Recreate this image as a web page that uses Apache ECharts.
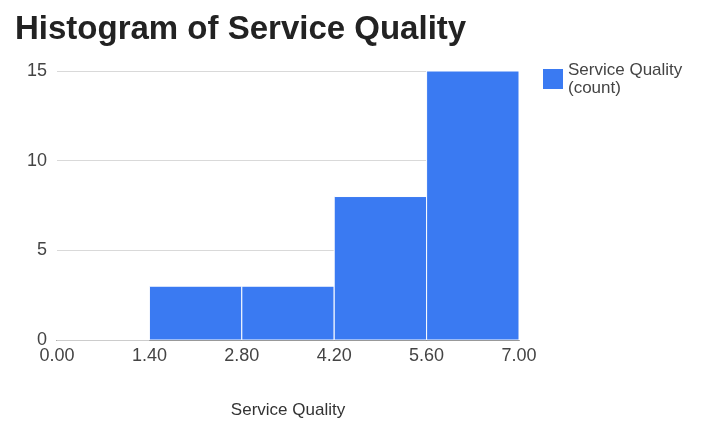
<!DOCTYPE html>
<html>
<head>
<meta charset="utf-8">
<script src="https://cdn.jsdelivr.net/npm/echarts@6/dist/echarts.min.js"></script>
<style>
  html, body { margin: 0; padding: 0; background: #fff; }
  #chart { width: 717px; height: 422px; }
</style>
</head>
<body>
<div id="chart"></div>
<script>
// bin edges and counts
const binStarts = [0.0, 1.4, 2.8, 4.2, 5.6]
const binEnds = [1.4, 2.8, 4.2, 5.6, 7.0]
const counts = [0, 3, 3, 8, 15]
const yTicks = [0, 5, 10, 15]

const font = 'Liberation Sans, Arial, sans-serif'
let myChart = echarts.init(document.getElementById('chart'))

myChart.setOption({
  animation: false,
  title: {
    text: 'Histogram of Service Quality',
    left: 10,
    top: 8,
    textStyle: { fontFamily: font, fontSize: 33, fontWeight: 'bold', color: '#222' }
  },
  legend: {
    orient: 'vertical',
    left: 538,
    top: 56,
    itemWidth: 20,
    itemHeight: 20,
    textStyle: { fontFamily: font, fontSize: 17, color: '#444', lineHeight: 18 },
    data: [{ name: 'Service Quality\n(count)', icon: 'rect' }]
  },
  grid: { left: 57, right: 198, top: 71, bottom: 82, outerBoundsMode: 'none' },
  xAxis: {
    type: 'value',
    min: 0,
    max: 7,
    interval: 1.4,
    name: 'Service Quality',
    nameLocation: 'middle',
    nameGap: 62,
    nameTextStyle: { fontFamily: font, fontSize: 17, color: '#333' },
    axisLine: { show: true, lineStyle: { color: '#333', width: 1 } },
    axisTick: { show: false },
    splitLine: { show: false },
    axisLabel: {
      fontFamily: font, fontSize: 18, color: '#444', margin: 7,
      formatter: v => v.toFixed(2)
    }
  },
  yAxis: {
    type: 'value',
    min: yTicks[0],
    max: yTicks[yTicks.length - 1],
    interval: 5,
    axisLine: { show: false },
    axisTick: { show: false },
    splitLine: { lineStyle: { color: '#d9d9d9' } },
    axisLabel: { fontFamily: font, fontSize: 18, color: '#444', margin: 10 }
  },
  series: [{
    name: 'Service Quality\n(count)',
    type: 'custom',
    itemStyle: { color: '#3a7af2' },
    data: binStarts.map((s, i) => [s, binEnds[i], counts[i]]),
    encode: { x: [0, 1], y: 2 },
    renderItem: function (params, api) {
      const p0 = api.coord([api.value(0), 0])
      const p1 = api.coord([api.value(1), api.value(2)])
      return {
        type: 'rect',
        shape: { x: p0[0], y: p1[1], width: p1[0] - p0[0], height: p0[1] - p1[1] },
        style: { fill: '#3a7af2', stroke: '#fff', lineWidth: 1 }
      }
    },
    z: 3
  }]
})
</script>
</body>
</html>
